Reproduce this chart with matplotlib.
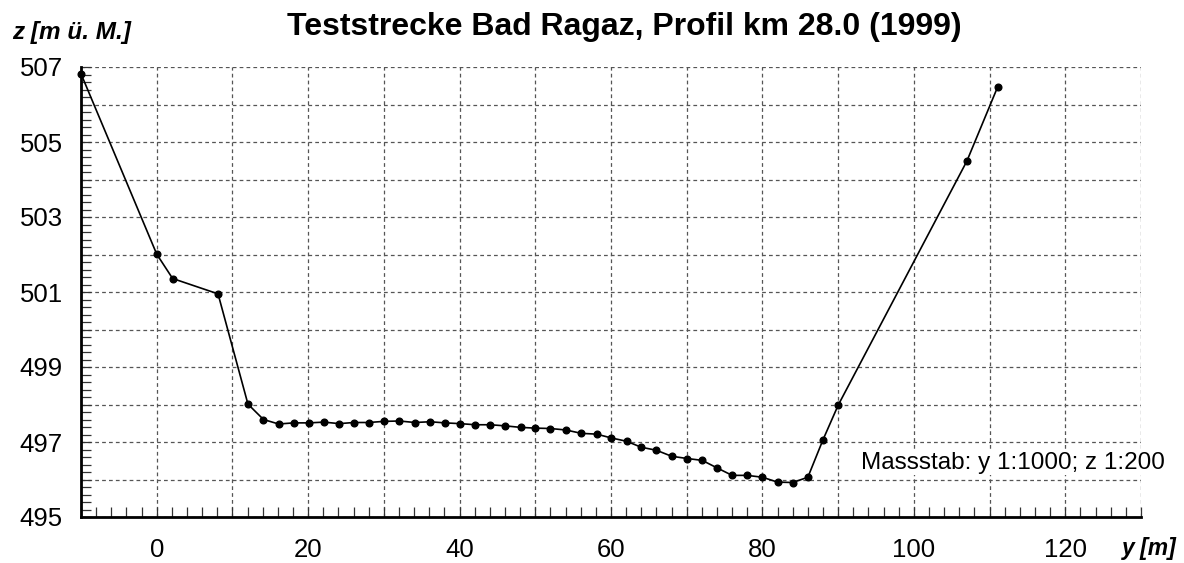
import matplotlib
matplotlib.use('Agg')
from matplotlib import pyplot as plt
from matplotlib.ticker import MultipleLocator, FixedFormatter, FixedLocator
import numpy as np

plt.rcParams['font.family'] = ['Liberation Sans', 'DejaVu Sans']

# Querprofil: Distanz y [m] und Höhe z [m ü. M.]
dist = [-10.0, 0.0, 2.1, 8.1, 12.05, 14.1, 16.1, 18.1, 20.1, 22.1, 24.1, 26.05,
        28.0, 30.0, 32.05, 34.1, 36.1, 38.05, 40.05, 42.1, 44.05, 46.05, 48.05,
        50.0, 52.0, 54.05, 56.1, 58.1, 60.0, 62.05, 64.0, 66.0, 68.0, 70.05,
        72.05, 74.0, 76.0, 78.0, 80.0, 82.0, 84.0, 86.0, 88.0, 90.0, 107.0, 111.05]
hoehe = [506.82, 502.01, 501.36, 500.95, 498.01, 497.6, 497.48, 497.51, 497.51,
         497.53, 497.49, 497.52, 497.52, 497.55, 497.56, 497.52, 497.54, 497.51,
         497.49, 497.46, 497.46, 497.43, 497.39, 497.37, 497.36, 497.32, 497.23,
         497.21, 497.11, 497.02, 496.86, 496.78, 496.62, 496.56, 496.51, 496.31,
         496.11, 496.11, 496.06, 495.93, 495.92, 496.06, 497.06, 497.98, 504.49,
         506.46]

x_labels = ['0', '20', '40', '60', '80', '100', '120']
x_label_pos = [0, 20, 40, 60, 80, 100, 120]
z_labels = ['495', '497', '499', '501', '503', '505', '507']
z_label_pos = [495, 497, 499, 501, 503, 505, 507]

fig = plt.figure(figsize=(11.84, 5.63), dpi=100)
ax = fig.add_axes([81/1184, 46/563, 1060/1184, 450/563])

ax.plot(dist, hoehe, color='black', lw=1.2, marker='o', ms=4.8, zorder=3, clip_on=False)

ax.set_xlim(-10, 130)
ax.set_ylim(495, 507)

# Gitter
ax.xaxis.set_major_locator(MultipleLocator(10))
ax.yaxis.set_major_locator(MultipleLocator(1))
ax.grid(True, which='major', color='#555555', lw=0.9, linestyle=(0, (3, 2.5)))
ax.tick_params(which='major', length=0, labelbottom=False, labelleft=False)

# kleine Ticks nach innen
ax.xaxis.set_minor_locator(MultipleLocator(2))
ax.yaxis.set_minor_locator(MultipleLocator(0.2))
ax.xaxis.remove_overlapping_locs = False
ax.yaxis.remove_overlapping_locs = False
ax.tick_params(which='minor', direction='in', length=7.5, width=0.9, color='#333333')

sx = ax.secondary_xaxis('bottom')
sx.xaxis.set_major_locator(FixedLocator(x_label_pos))
sx.xaxis.set_major_formatter(FixedFormatter(x_labels))
sx.tick_params(length=0, pad=15, labelsize=18.5)
sx.spines['bottom'].set_visible(False)

sy = ax.secondary_yaxis('left')
sy.yaxis.set_major_locator(FixedLocator(z_label_pos))
sy.yaxis.set_major_formatter(FixedFormatter(z_labels))
sy.tick_params(length=0, pad=13, labelsize=18.5)
sy.spines['left'].set_visible(False)

for s in ['top', 'right']:
    ax.spines[s].set_visible(False)
for s in ['left', 'bottom']:
    ax.spines[s].set_linewidth(2)
    ax.spines[s].set_zorder(4)

ax.text(93.0, 496.45, 'Massstab: y 1:1000; z 1:200', fontsize=17.5, va='center', ha='left',
        bbox=dict(facecolor='white', edgecolor='none', pad=1), clip_on=False, zorder=5)

fig.text(624/1184, 1 - 27/563, 'Teststrecke Bad Ragaz, Profil km 28.0 (1999)',
         fontsize=23, fontweight='bold', ha='center', va='center')
fig.text(12/1184, 1 - 33/563, 'z [m ü. M.]', fontsize=17.5, fontweight='bold', style='italic',
         ha='left', va='center')
fig.text(1122/1184, 1 - 548/563, 'y [m]', fontsize=16.5, fontweight='bold', style='italic',
         ha='left', va='center')

plt.savefig('out.png', dpi=100)
